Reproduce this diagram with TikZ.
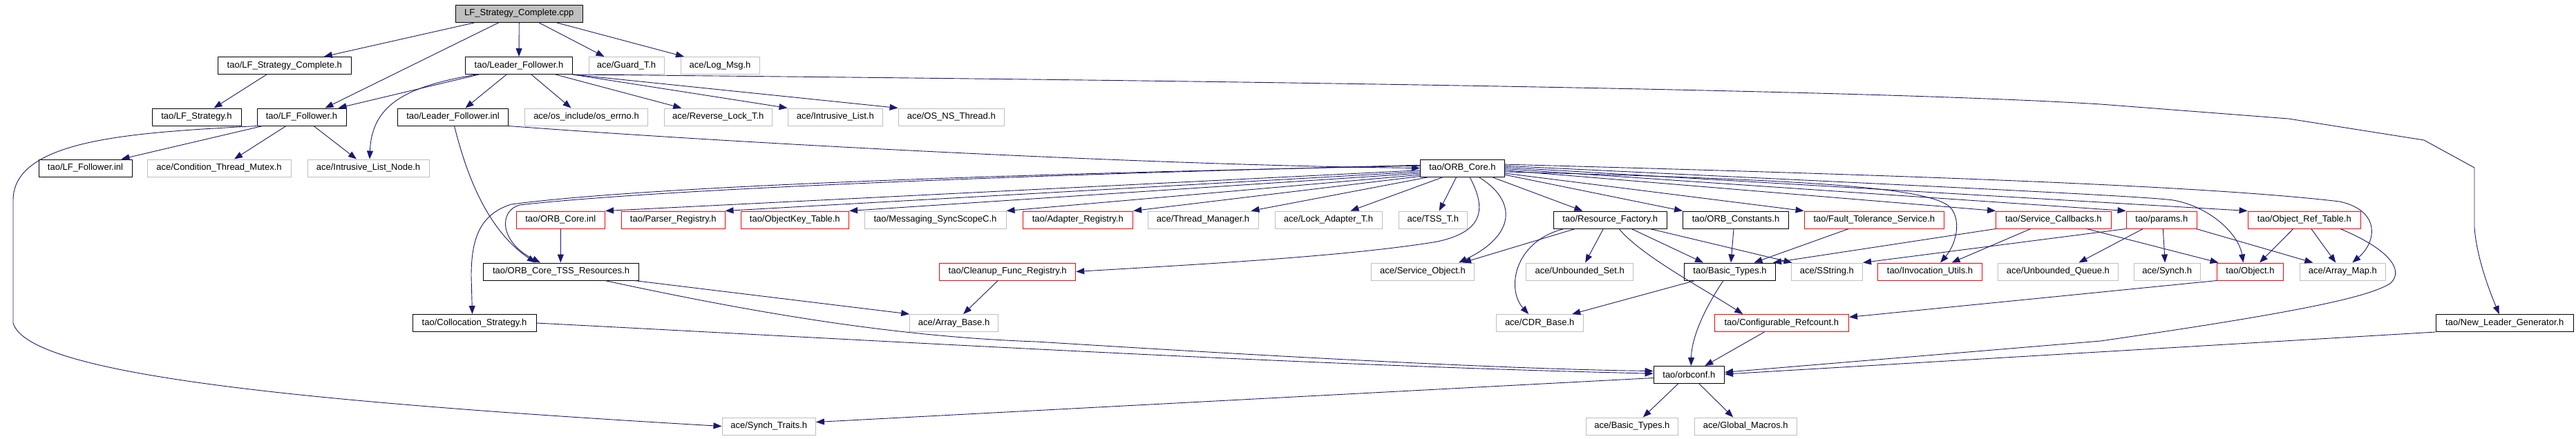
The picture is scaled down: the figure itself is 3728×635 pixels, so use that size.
\documentclass[tikz,border=0pt]{standalone}
\usepackage{fontspec}
\setmainfont{Liberation Sans}
\usetikzlibrary{arrows.meta}
\definecolor{edgeblue}{HTML}{191970}
\definecolor{boxgray}{HTML}{BFBFBF}
\definecolor{rootfill}{HTML}{BFBFBF}
\definecolor{boxred}{HTML}{FF0000}
\tikzset{
  nd/.style={rectangle, minimum height=25pt, inner sep=0pt, fill=white, font=\fontsize{13pt}{15pt}\selectfont},
  blk/.style={nd, draw=black, line width=1pt},
  gry/.style={nd, draw=boxgray, line width=1pt},
  rd/.style={nd, draw=boxred, line width=1pt},
  rootn/.style={nd, draw=black, fill=rootfill, line width=1pt},
  dep/.style={draw=edgeblue, line width=0.9pt, line join=round, -{Triangle[length=12pt,width=9pt]}}
}
\begin{document}
\begin{tikzpicture}[x=1pt,y=-1pt]
\useasboundingbox (0,0) rectangle (3728,635);
% row 0
\node[rootn, minimum width=183.4pt] (root) at (751.3,19.5) {LF\_Strategy\_Complete.cpp};
% row 1
\node[blk, minimum width=192.5pt] (lfsc) at (411.8,95) {tao/LF\_Strategy\_Complete.h};
\node[blk, minimum width=155pt] (lfh) at (751,95) {tao/Leader\_Follower.h};
\node[gry, minimum width=109pt] (guard) at (906.5,95) {ace/Guard\_T.h};
\node[gry, minimum width=114pt] (logmsg) at (1042,95) {ace/Log\_Msg.h};
% row 2
\node[blk, minimum width=129pt] (lfs) at (284.5,169.5) {tao/LF\_Strategy.h};
\node[blk, minimum width=129pt] (lff) at (436.5,169.5) {tao/LF\_Follower.h};
\node[blk, minimum width=160pt] (lfinl) at (655.5,169.5) {tao/Leader\_Follower.inl};
\node[gry, minimum width=178pt] (errno) at (848.5,169.5) {ace/os\_include/os\_errno.h};
\node[gry, minimum width=156.5pt] (revlock) at (1039.3,169.5) {ace/Reverse\_Lock\_T.h};
\node[gry, minimum width=137.5pt] (ilist) at (1208.8,169.5) {ace/Intrusive\_List.h};
\node[gry, minimum width=153.5pt] (osns) at (1376.8,169.5) {ace/OS\_NS\_Thread.h};
% row 3
\node[blk, minimum width=135pt] (lffinl) at (123.5,243.5) {tao/LF\_Follower.inl};
\node[gry, minimum width=208pt] (ctm) at (317,243.5) {ace/Condition\_Thread\_Mutex.h};
\node[gry, minimum width=176pt] (iln) at (533,243.5) {ace/Intrusive\_List\_Node.h};
\node[blk, minimum width=122pt] (ocore) at (2116.5,243.5) {tao/ORB\_Core.h};
% row 4
\node[rd, minimum width=128.5pt] (ocinl) at (811.3,318.5) {tao/ORB\_Core.inl};
\node[rd, minimum width=149.4pt] (parser) at (974.3,318.5) {tao/Parser\_Registry.h};
\node[rd, minimum width=156.5pt] (okt) at (1150.3,318.5) {tao/ObjectKey\_Table.h};
\node[gry, minimum width=205pt] (msg) at (1353.5,318.5) {tao/Messaging\_SyncScopeC.h};
\node[rd, minimum width=159.6pt] (adapter) at (1559.8,318.5) {tao/Adapter\_Registry.h};
\node[gry, minimum width=160pt] (thrmgr) at (1741,318.5) {ace/Thread\_Manager.h};
\node[gry, minimum width=155pt] (lockad) at (1922.5,318.5) {ace/Lock\_Adapter\_T.h};
\node[gry, minimum width=98.5pt] (tss) at (2073.8,318.5) {ace/TSS\_T.h};
\node[blk, minimum width=163.4pt] (rf) at (2330.3,318.5) {tao/Resource\_Factory.h};
\node[blk, minimum width=153pt] (oconst) at (2512,318.5) {tao/ORB\_Constants.h};
\node[rd, minimum width=202.5pt] (ft) at (2712.3,318.5) {tao/Fault\_Tolerance\_Service.h};
\node[rd, minimum width=166.4pt] (scb) at (2971.8,318.5) {tao/Service\_Callbacks.h};
\node[rd, minimum width=102.5pt] (params) at (3128.3,318.5) {tao/params.h};
\node[rd, minimum width=163.5pt] (ort) at (3334.8,318.5) {tao/Object\_Ref\_Table.h};
% row 5
\node[blk, minimum width=225pt] (tssres) at (812,393.5) {tao/ORB\_Core\_TSS\_Resources.h};
\node[rd, minimum width=197pt] (cleanup) at (1458.2,393.5) {tao/Cleanup\_Func\_Registry.h};
\node[gry, minimum width=149pt] (svcobj) at (2059,393.5) {ace/Service\_Object.h};
\node[gry, minimum width=155pt] (uset) at (2286.2,393.5) {ace/Unbounded\_Set.h};
\node[blk, minimum width=132pt] (btypes) at (2503.5,393.5) {tao/Basic\_Types.h};
\node[gry, minimum width=103.5pt] (sstring) at (2643.8,393.5) {ace/SString.h};
\node[rd, minimum width=151pt] (invoc) at (2793,393.5) {tao/Invocation\_Utils.h};
\node[gry, minimum width=174pt] (uqueue) at (2978.4,393.5) {ace/Unbounded\_Queue.h};
\node[gry, minimum width=96.4pt] (synch) at (3136.2,393.5) {ace/Synch.h};
\node[rd, minimum width=96pt] (object) at (3256.5,393.5) {tao/Object.h};
\node[gry, minimum width=124.5pt] (amap) at (3390.3,393.5) {ace/Array\_Map.h};
% row 6
\node[blk, minimum width=179pt] (coll) at (686.5,468) {tao/Collocation\_Strategy.h};
\node[gry, minimum width=127.8pt] (abase) at (1380.6,468) {ace/Array\_Base.h};
\node[gry, minimum width=126.4pt] (cdr) at (2228.2,468) {ace/CDR\_Base.h};
\node[rd, minimum width=194.5pt] (cref) at (2578.3,468) {tao/Configurable\_Refcount.h};
\node[blk, minimum width=199.5pt] (nlg) at (3624.8,468) {tao/New\_Leader\_Generator.h};
% row 7
\node[blk, minimum width=102.5pt] (orbconf) at (2444.3,543) {tao/orbconf.h};
% row 8
\node[gry, minimum width=135.4pt] (straits) at (1112.7,617.5) {ace/Synch\_Traits.h};
\node[gry, minimum width=133.6pt] (abtypes) at (2361.8,617.5) {ace/Basic\_Types.h};
\node[gry, minimum width=148.4pt] (gmacros) at (2526.2,617.5) {ace/Global\_Macros.h};

% root
\draw[dep] ([xshift=-63pt]root.south) -- ([xshift=57pt]lfsc.north);
\draw[dep] ([xshift=-29pt]root.south) -- ([xshift=34pt]lff.north);
\draw[dep] (root.south) -- (lfh.north);
\draw[dep] ([xshift=28pt]root.south) -- ([xshift=-32pt]guard.north);
\draw[dep] ([xshift=53pt]root.south) -- ([xshift=-52pt]logmsg.north);
% LF_Strategy_Complete.h
\draw[dep] ([xshift=-26pt]lfsc.south) -- ([xshift=25pt]lfs.north);
% Leader_Follower.h
\draw[dep] ([xshift=-58pt]lfh.south) -- ([xshift=53pt]lff.north);
\draw[dep] ([xshift=-62pt]lfh.south) .. controls (590,125) and (538,150) .. ([xshift=2pt]iln.north);
\draw[dep] ([xshift=-18pt]lfh.south) -- ([xshift=18pt]lfinl.north);
\draw[dep] ([xshift=18pt]lfh.south) -- ([xshift=-22pt]errno.north);
\draw[dep] ([xshift=53pt]lfh.south) -- ([xshift=-53pt]revlock.north);
\draw[dep] (lfh.south east) -- (ilist.north west);
\draw[dep] (lfh.south east) -- (osns.north west);
\draw[dep] (lfh.south east) .. controls (1800,117) and (2700,130) .. (3040,151) -- (3312,172) -- (3508,203) -- (3581,243) -- (3581,330) .. controls (3584,370) and (3600,415) .. ([xshift=-8pt]nlg.north);
% LF_Follower.h
\draw[dep] ([xshift=-56.5pt]lff.south) -- ([xshift=52pt]lffinl.north);
\draw[dep] ([xshift=-22.5pt]lff.south) -- ([xshift=22pt]ctm.north);
\draw[dep] ([xshift=17.5pt]lff.south) -- ([xshift=-17pt]iln.north);
\draw[dep] (lff.south west) .. controls (200,192) and (19,200) .. (19,290) -- (19,468) .. controls (40,540) and (400,580) .. (straits.west);
% Leader_Follower.inl
\draw[dep] (lfinl.south east) .. controls (1100,210) and (1700,240) .. (ocore.west);
\draw[dep] ([xshift=2pt]lfinl.south) .. controls (672,240) and (700,330) .. ([xshift=-37pt]tssres.north);
% ORB_Core.h to the left
\draw[dep] (ocore.183) -- (ocinl.north east);
\draw[dep] (ocore.185) -- (parser.north east);
\draw[dep] (ocore.187) -- (okt.north east);
\draw[dep] (ocore.189) -- (msg.north east);
\draw[dep] (ocore.191) -- (adapter.north east);
\draw[dep] (ocore.195) -- ([xshift=-11pt]thrmgr.north east);
\draw[dep] (ocore.205) -- ([xshift=32pt]lockad.north);
\draw[dep] (ocore.236) -- ([xshift=9pt]tss.north);
\draw[dep] (ocore.177) .. controls (1300,255) and (900,275) .. (740,296) .. controls (695,310) and (682,345) .. (682,400) -- ([xshift=-3pt]coll.north);
\draw[dep] (ocore.176) .. controls (1300,258) and (900,280) .. (752,297) .. controls (722,305) and (722,350) .. ([xshift=-30pt]tssres.north);
\draw[dep] (ocore.309) .. controls (2150,300) and (2150,335) .. (2080,350) .. controls (1950,372) and (1700,385) .. (cleanup.east);
\draw[dep] (ocore.331) .. controls (2195,290) and (2195,340) .. ([xshift=52pt]svcobj.north);
% ORB_Core.h to the right
\draw[dep] (ocore.343) -- ([xshift=-40pt]rf.north);
\draw[dep] (ocore.351) -- (oconst.north west);
\draw[dep] (ocore.353) -- (ft.north west);
\draw[dep] (ocore.355) .. controls (2600,260) and (2790,270) .. (2822,300) .. controls (2840,320) and (2830,355) .. ([xshift=15pt]invoc.north);
\draw[dep] (ocore.357) -- (scb.north west);
\draw[dep] (ocore.359) -- (params.north west);
\draw[dep] (ocore.1) -- (ort.north west);
\draw[dep] (ocore.3) .. controls (2800,270) and (3100,284) .. (3145,290) .. controls (3200,300) and (3240,340) .. ([xshift=-10pt]object.north);
\draw[dep] (ocore.5) .. controls (2800,255) and (3200,270) .. (3386,292) .. controls (3445,305) and (3440,350) .. ([xshift=14pt]amap.north);
% Resource_Factory.h
\draw[dep] ([xshift=-50.7pt]rf.south) -- ([xshift=58pt]svcobj.north);
\draw[dep] ([xshift=-10pt]rf.south) -- ([xshift=8pt]uset.north);
\draw[dep] ([xshift=-67pt]rf.south) .. controls (2190,350) and (2180,420) .. ([xshift=-16pt]cdr.north);
\draw[dep] ([xshift=12.7pt]rf.south) .. controls (2375,370) and (2460,415) .. ([xshift=-56pt]cref.north);
\draw[dep] ([xshift=30.7pt]rf.south) -- ([xshift=-38.5pt]btypes.north);
\draw[dep] ([xshift=57.5pt]rf.south) -- ([xshift=2pt]sstring.north west);
% row 4 others
\draw[dep] ([xshift=-3pt]oconst.south) -- ([xshift=1.5pt]btypes.north);
\draw[dep] ([xshift=-37pt]ft.south) -- ([xshift=35pt]btypes.north);
\draw[dep] (scb.south west) -- ([xshift=-4pt]btypes.north east);
\draw[dep] ([xshift=-33pt]scb.south) -- ([xshift=31.5pt]invoc.north);
\draw[dep] ([xshift=48pt]scb.south) -- ([xshift=2.5pt]object.north west);
\draw[dep] (params.south west) -- (sstring.north east);
\draw[dep] ([xshift=-27pt]params.south) -- ([xshift=30pt]uqueue.north);
\draw[dep] ([xshift=2pt]params.south) -- ([xshift=-3pt]synch.north);
\draw[dep] ([xshift=50pt]params.south) -- ([xshift=-43pt]amap.north);
\draw[dep] ([xshift=-16pt]ort.south) -- ([xshift=13.5pt]object.north);
\draw[dep] ([xshift=10pt]ort.south) -- ([xshift=-10pt]amap.north);
\draw[dep] ([xshift=52pt]ort.south) .. controls (3455,360) and (3480,390) .. (3460,410) .. controls (3430,430) and (3330,452) .. (3040,494) -- (orbconf.4);
\draw[dep] (ocinl.south) -- (ocinl.south |- tssres.north);
% row 5 and below
\draw[dep] ([xshift=106pt]tssres.south) -- (abase.north west);
\draw[dep] ([xshift=63.5pt]tssres.south) .. controls (1100,455) and (1300,488) .. (1500,495) .. controls (1900,520) and (2200,535) .. (orbconf.174);
\draw[dep] ([xshift=-14pt]cleanup.south) -- ([xshift=13.5pt]abase.north);
\draw[dep] ([xshift=-50.5pt]btypes.south) -- ([xshift=47pt]cdr.north);
\draw[dep] ([xshift=-9.5pt]btypes.south) .. controls (2465,450) and (2448,490) .. ([xshift=3pt]orbconf.north);
\draw[dep] (object.south west) -- (cref.5);
\draw[dep] (coll.east) .. controls (1300,495) and (1900,530) .. (orbconf.178);
\draw[dep] ([xshift=-25pt]cref.south) -- ([xshift=23pt]orbconf.north);
\draw[dep] (nlg.south west) -- (orbconf.1);
\draw[dep] (orbconf.185) -- (straits.5);
\draw[dep] ([xshift=-15.7pt]orbconf.south) -- ([xshift=16pt]abtypes.north);
\draw[dep] ([xshift=14.7pt]orbconf.south) -- ([xshift=-18pt]gmacros.north);
\end{tikzpicture}
\end{document}
